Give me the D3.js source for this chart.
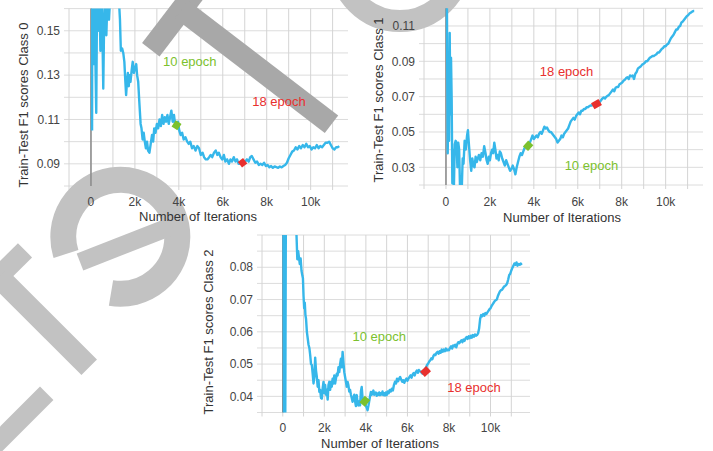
<!DOCTYPE html>
<html>
<head>
<meta charset="utf-8">
<script src="https://cdn.jsdelivr.net/npm/d3@7"></script>
<style>
  body { margin: 0; background: #fff; }
  svg { display: block; font-family: "Liberation Sans", Arial, sans-serif; }
</style>
</head>
<body>
<svg id="chart" width="713" height="451"></svg>
<script>
// ---- data ----
const iterTicks = [0, 2000, 4000, 6000, 8000, 10000];
const iterTickLabels = ["0", "2k", "4k", "6k", "8k", "10k"];
const iterGrid = [-1000, 0, 1000, 2000, 3000, 4000, 5000, 6000, 7000, 8000, 9000, 10000, 11000];

const class0Ticks = [0.09, 0.11, 0.13, 0.15];
const class0Grid = [0.08, 0.09, 0.10, 0.11, 0.12, 0.13, 0.14, 0.15, 0.16];
const class1Ticks = [0.03, 0.05, 0.07, 0.09, 0.11];
const class1Grid = [0.02, 0.03, 0.04, 0.05, 0.06, 0.07, 0.08, 0.09, 0.10, 0.11, 0.12];
const class2Ticks = [0.04, 0.05, 0.06, 0.07, 0.08];
const class2Grid = [0.035, 0.04, 0.045, 0.05, 0.055, 0.06, 0.065, 0.07, 0.075, 0.08, 0.085, 0.09];

// [iteration, F1 score]
const class0 = [[50,0.105],[60,0.17],[120,0.135],[150,0.17],[200,0.138],[240,0.113],[280,0.17],[330,0.15],[380,0.17],
  [430,0.141],[470,0.17],[520,0.15],[560,0.124],[600,0.155],[650,0.17],[700,0.148],[760,0.168],[820,0.155],[900,0.17],
  [1000,0.163],[1080,0.17],[1150,0.162],[1250,0.168],[1320,0.155],[1360,0.141],[1420,0.142],[1470,0.140],[1520,0.136],
  [1560,0.128],[1600,0.121],[1640,0.127],[1680,0.131],[1720,0.125],[1760,0.13],[1800,0.127],[1850,0.132],[1900,0.136],
  [1950,0.131],[2000,0.133],[2060,0.135],[2100,0.13],[2150,0.127],[2200,0.118],[2260,0.108],[2300,0.106],[2350,0.101],
  [2400,0.104],[2450,0.1],[2500,0.097],[2550,0.1],[2600,0.096],[2660,0.095],[2720,0.099],[2780,0.103],[2830,0.1],
  [2880,0.106],[2940,0.104],[3000,0.108],[3060,0.106],[3120,0.11],[3180,0.107],[3240,0.112],[3300,0.108],[3360,0.111],
  [3420,0.109],[3480,0.112],[3540,0.108],[3600,0.111],[3660,0.114],[3720,0.109],[3780,0.112],[3840,0.107],[3900,0.108],
  [3960,0.109],[4020,0.105],[4080,0.103],[4150,0.104],[4220,0.101],[4300,0.102],[4380,0.1],[4450,0.099],[4520,0.1],
  [4600,0.097],[4680,0.098],[4760,0.096],[4840,0.098],[4920,0.097],[5000,0.094],[5080,0.095],[5150,0.093],[5230,0.092],
  [5300,0.092],[5380,0.093],[5450,0.094],[5520,0.093],[5600,0.095],[5680,0.096],[5750,0.094],[5820,0.095],[5900,0.093],
  [5980,0.092],[6050,0.094],[6120,0.091],[6200,0.092],[6280,0.090],[6350,0.092],[6420,0.091],[6500,0.093],[6580,0.091],
  [6650,0.092],[6720,0.090],[6800,0.090],[6880,0.091],[6950,0.0905],[7020,0.091],[7100,0.092],[7180,0.091],[7250,0.093],
  [7320,0.0935],[7400,0.092],[7480,0.0905],[7560,0.091],[7640,0.0895],[7720,0.090],[7800,0.0895],[7880,0.0905],
  [7960,0.089],[8040,0.0895],[8120,0.0885],[8200,0.089],[8280,0.0882],[8360,0.0888],[8440,0.0885],[8520,0.0882],
  [8600,0.0888],[8680,0.0884],[8760,0.089],[8840,0.0895],[8920,0.0905],[9000,0.0925],[9080,0.094],[9160,0.0955],
  [9240,0.096],[9320,0.0975],[9400,0.0965],[9480,0.098],[9560,0.097],[9640,0.0985],[9720,0.0975],[9800,0.099],
  [9880,0.0975],[9960,0.098],[10040,0.0965],[10120,0.0975],[10200,0.097],[10280,0.0985],[10360,0.097],[10440,0.098],
  [10520,0.0975],[10600,0.0985],[10680,0.0995],[10760,0.0995],[10840,0.1],[10920,0.0985],[11000,0.097],[11080,0.0965],
  [11160,0.0975],[11240,0.0975],[11300,0.098]];

const class1 = [[40,0.13],[80,0.038],[110,0.09],[140,0.045],[170,0.106],[200,0.06],[230,0.092],[260,0.068],[290,0.021],
  [320,0.04],[360,0.018],[400,0.043],[440,0.045],[480,0.044],[520,0.03],[560,0.044],[600,0.04],[640,0.018],[680,0.025],
  [720,0.018],[760,0.035],[800,0.032],[850,0.045],[900,0.04],[960,0.048],[1000,0.051],[1050,0.042],[1100,0.034],
  [1150,0.028],[1200,0.035],[1250,0.031],[1300,0.03],[1350,0.036],[1400,0.033],[1450,0.035],[1500,0.037],[1560,0.034],
  [1620,0.038],[1680,0.036],[1740,0.042],[1800,0.038],[1850,0.034],[1900,0.032],[1950,0.036],[2000,0.034],[2050,0.038],
  [2100,0.04],[2150,0.038],[2200,0.044],[2250,0.04],[2300,0.035],[2350,0.037],[2400,0.034],[2450,0.039],[2500,0.038],
  [2560,0.035],[2620,0.033],[2680,0.031],[2740,0.034],[2800,0.032],[2860,0.03],[2920,0.028],[2980,0.029],[3040,0.031],
  [3100,0.029],[3160,0.026],[3220,0.03],[3280,0.033],[3340,0.036],[3400,0.038],[3460,0.037],[3520,0.039],[3580,0.041],
  [3640,0.042],[3700,0.0425],[3760,0.043],[3820,0.044],[3880,0.046],[3940,0.048],[4000,0.046],[4060,0.047],[4120,0.048],
  [4180,0.047],[4240,0.049],[4300,0.05],[4360,0.049],[4420,0.051],[4480,0.053],[4540,0.052],[4600,0.0525],[4660,0.051],
  [4720,0.05],[4780,0.05],[4840,0.049],[4900,0.048],[4960,0.047],[5020,0.046],[5080,0.044],[5140,0.045],[5200,0.046],
  [5260,0.048],[5320,0.047],[5380,0.049],[5440,0.05],[5500,0.051],[5560,0.052],[5620,0.054],[5680,0.056],[5740,0.057],
  [5800,0.058],[5860,0.057],[5920,0.059],[5980,0.06],[6040,0.061],[6100,0.06],[6160,0.062],[6220,0.062],[6280,0.063],
  [6340,0.063],[6400,0.064],[6460,0.064],[6520,0.0645],[6580,0.065],[6640,0.065],[6700,0.0655],[6760,0.0655],
  [6820,0.066],[6880,0.0665],[6940,0.067],[7000,0.067],[7060,0.068],[7120,0.069],[7180,0.0695],[7240,0.069],[7300,0.07],
  [7360,0.0705],[7420,0.071],[7480,0.072],[7540,0.073],[7600,0.074],[7660,0.073],[7720,0.075],[7780,0.0755],
  [7840,0.0755],[7900,0.077],[7960,0.0775],[8020,0.078],[8080,0.079],[8140,0.0795],[8200,0.0805],[8260,0.081],
  [8320,0.08],[8380,0.082],[8440,0.0815],[8500,0.082],[8560,0.08],[8620,0.083],[8680,0.084],[8740,0.086],[8800,0.0865],
  [8860,0.087],[8920,0.088],[8980,0.0885],[9040,0.089],[9100,0.09],[9160,0.09],[9220,0.091],[9280,0.092],[9340,0.0925],
  [9400,0.093],[9460,0.093],[9520,0.0935],[9580,0.094],[9640,0.095],[9700,0.095],[9760,0.096],[9820,0.097],
  [9880,0.0975],[9940,0.0985],[10000,0.0985],[10060,0.0995],[10120,0.1],[10180,0.1015],[10240,0.103],[10300,0.104],
  [10360,0.105],[10420,0.1065],[10480,0.108],[10540,0.108],[10600,0.1095],[10660,0.11],[10720,0.112],[10780,0.1125],
  [10840,0.1135],[10900,0.1145],[10960,0.1155],[11020,0.116],[11080,0.117],[11140,0.1175],[11200,0.118],[11260,0.1185],
  [11300,0.1185]];

const class2 = [[30,0.1],[60,0.03],[90,0.1],[120,0.03],[150,0.1],[300,0.11],[500,0.1],[650,0.092],[700,0.0825],
  [740,0.085],[780,0.083],[820,0.081],[860,0.0827],[900,0.079],[940,0.0775],[970,0.0766],[1000,0.071],[1030,0.0673],
  [1060,0.069],[1090,0.0652],[1120,0.064],[1160,0.06],[1200,0.058],[1240,0.056],[1280,0.055],[1320,0.0528],[1360,0.05],
  [1400,0.0497],[1440,0.047],[1480,0.044],[1520,0.046],[1560,0.052],[1600,0.048],[1640,0.046],[1680,0.043],[1720,0.045],
  [1760,0.0414],[1800,0.042],[1840,0.0395],[1880,0.0393],[1920,0.0425],[1960,0.0445],[2000,0.041],[2040,0.0435],
  [2080,0.0405],[2120,0.042],[2160,0.039],[2200,0.0435],[2240,0.0445],[2280,0.042],[2320,0.0445],[2360,0.043],
  [2400,0.0455],[2440,0.044],[2480,0.0465],[2520,0.044],[2560,0.0455],[2600,0.047],[2640,0.0465],[2680,0.049],
  [2720,0.0475],[2760,0.05],[2800,0.0517],[2840,0.049],[2880,0.0538],[2920,0.0505],[2960,0.0475],[3000,0.046],
  [3040,0.0445],[3080,0.043],[3120,0.0445],[3160,0.0434],[3200,0.0415],[3240,0.042],[3280,0.0405],[3320,0.0395],
  [3360,0.0383],[3400,0.0395],[3440,0.0405],[3480,0.0385],[3520,0.037],[3560,0.0404],[3600,0.038],[3640,0.0372],
  [3680,0.0385],[3720,0.0372],[3760,0.0415],[3800,0.0429],[3840,0.0395],[3880,0.0382],[3920,0.0385],[3960,0.039],
  [4000,0.037],[4040,0.0365],[4080,0.0357],[4120,0.037],[4160,0.0385],[4200,0.040],[4240,0.0414],[4280,0.0405],
  [4320,0.041],[4360,0.0418],[4400,0.0405],[4440,0.041],[4480,0.0412],[4520,0.0402],[4560,0.0409],[4600,0.0405],
  [4640,0.0412],[4680,0.0404],[4720,0.041],[4760,0.0406],[4800,0.0415],[4840,0.0404],[4880,0.041],[4920,0.0403],
  [4960,0.0412],[5000,0.0404],[5050,0.0415],[5100,0.041],[5150,0.042],[5200,0.0415],[5250,0.0424],[5300,0.0418],
  [5350,0.0435],[5400,0.0445],[5450,0.044],[5500,0.0455],[5550,0.0447],[5600,0.0455],[5650,0.046],[5700,0.0452],
  [5750,0.0445],[5800,0.045],[5850,0.0442],[5900,0.045],[5950,0.0455],[6000,0.0448],[6050,0.0455],[6100,0.046],
  [6150,0.0465],[6200,0.0458],[6250,0.0468],[6300,0.0472],[6350,0.0465],[6400,0.0475],[6450,0.048],[6500,0.0473],
  [6550,0.0482],[6600,0.0478],[6650,0.0476],[6700,0.0472],[6750,0.047],[6800,0.0478],[6850,0.0485],[6900,0.049],
  [6950,0.0498],[7000,0.0502],[7050,0.0508],[7100,0.0512],[7150,0.0518],[7200,0.0515],[7250,0.0525],[7300,0.053],
  [7350,0.0528],[7400,0.0535],[7450,0.0538],[7500,0.0532],[7550,0.054],[7600,0.0535],[7650,0.0545],[7700,0.0538],
  [7750,0.0545],[7800,0.054],[7850,0.0548],[7900,0.0542],[7950,0.0545],[8000,0.0543],[8050,0.055],[8100,0.0555],
  [8150,0.0548],[8200,0.0558],[8250,0.0555],[8300,0.056],[8350,0.0552],[8400,0.0562],[8450,0.0568],[8500,0.0565],
  [8550,0.057],[8600,0.0574],[8650,0.0568],[8700,0.0576],[8750,0.0572],[8800,0.058],[8850,0.0584],[8900,0.0578],
  [8950,0.0586],[9000,0.058],[9050,0.0588],[9100,0.0582],[9150,0.059],[9200,0.0585],[9250,0.0592],[9300,0.0588],
  [9350,0.059],[9400,0.0595],[9450,0.061],[9500,0.064],[9550,0.0652],[9600,0.0648],[9650,0.0655],[9700,0.065],
  [9750,0.0658],[9800,0.0655],[9850,0.066],[9900,0.0665],[9950,0.067],[10000,0.0673],[10050,0.068],[10100,0.0685],
  [10150,0.069],[10200,0.0695],[10250,0.0698],[10300,0.07],[10350,0.071],[10400,0.0718],[10450,0.0725],[10500,0.0729],
  [10550,0.073],[10600,0.0735],[10650,0.074],[10700,0.0742],[10750,0.0745],[10800,0.075],[10850,0.0762],[10900,0.0776],
  [10950,0.078],[11000,0.079],[11050,0.0798],[11100,0.0805],[11150,0.0812],[11200,0.0808],[11250,0.0815],[11300,0.0805],
  [11350,0.081],[11400,0.0808],[11450,0.0812],[11500,0.0807]];

// epoch markers (short thick segments on the curve) and their labels
const class0Ep10 = [[3800, 0.1060], [3990, 0.1088]];
const class0Ep18 = [[6780, 0.0896], [7020, 0.0914]];
const class1Ep10 = [[3620, 0.0405], [3860, 0.0438]];
const class1Ep18 = [[6680, 0.0646], [7020, 0.0670]];
const class2Ep10 = [[3820, 0.0375], [4080, 0.0395]];
const class2Ep18 = [[6720, 0.0468], [7020, 0.0486]];
const class0Labels = [[4500, 0.136], [8560, 0.1183]];
const class1Labels = [[6620, 0.0309], [5490, 0.0841]];
const class2Labels = [[4640, 0.0585], [9200, 0.0427]];

// ---- layout ----
var svg = d3.select("#chart");

var panels = [
  { data: class0, ep10: class0Ep10, ep18: class0Ep18, labels: class0Labels, yTicks: class0Ticks, yGrid: class0Grid,
    title: "Train-Test F1 scores Class 0", left: 69, right: 348, top: 8.6, bottom: 186,
    xDom: [-1000, 11700], yDom: [0.08, 0.16], yTitleX: 23, yTitleY: 105, xTitleX: 198, xTitleY: 221, tickY: 206 },
  { data: class1, ep10: class1Ep10, ep18: class1Ep18, labels: class1Labels, yTicks: class1Ticks, yGrid: class1Grid,
    title: "Train-Test F1 scores Class 1", left: 424, right: 703, top: 8.3, bottom: 185,
    xDom: [-1000, 11700], yDom: [0.02, 0.12], yTitleX: 378, yTitleY: 100, xTitleX: 562, xTitleY: 222, tickY: 206 },
  { data: class2, ep10: class2Ep10, ep18: class2Ep18, labels: class2Labels, yTicks: class2Ticks, yGrid: class2Grid,
    title: "Train-Test F1 scores Class 2", left: 262, right: 530, top: 235, bottom: 412.5,
    xDom: [-1000, 11900], yDom: [0.035, 0.09], yTitleX: 208, yTitleY: 332, xTitleX: 380, xTitleY: 448, tickY: 432 }
];

var gridLayer = svg.append("g");
var markLayer = svg.append("g"); // watermark sits between grid and data
var dataLayer = svg.append("g");

panels.forEach(function (p, i) {
  var x = d3.scaleLinear().domain(p.xDom).range([p.left, p.right]);
  var y = d3.scaleLinear().domain(p.yDom).range([p.bottom, p.top]);

  // grid + tick stubs
  gridLayer.append("g").selectAll("line").data(p.yGrid).enter().append("line")
    .attr("x1", p.left - 5).attr("x2", p.right)
    .attr("y1", d => y(d)).attr("y2", d => y(d))
    .attr("stroke", "#dcdcdc").attr("stroke-width", 1);
  gridLayer.append("g").selectAll("line").data(iterGrid).enter().append("line")
    .attr("x1", d => x(d)).attr("x2", d => x(d))
    .attr("y1", p.top).attr("y2", p.bottom + 4)
    .attr("stroke", "#d4d4d4").attr("stroke-width", 1);

  var g = dataLayer.append("g");

  // zero line
  g.append("line")
    .attr("x1", x(0)).attr("x2", x(0)).attr("y1", p.top).attr("y2", p.bottom)
    .attr("stroke", "#8a8a8a").attr("stroke-width", 1.5);

  g.append("clipPath").attr("id", "clip" + i).append("rect")
    .attr("x", p.left).attr("y", p.top).attr("width", p.right - p.left).attr("height", p.bottom - p.top);

  var line = d3.line().x(d => x(d[0])).y(d => y(d[1]));
  var plot = g.append("g").attr("clip-path", "url(#clip" + i + ")");
  plot.append("path").datum(p.data).attr("d", line)
    .attr("fill", "none").attr("stroke", "#36b7ea").attr("stroke-width", 2.4).attr("stroke-linejoin", "round");
  plot.append("path").datum(p.ep10).attr("d", line)
    .attr("fill", "none").attr("stroke", "#7cc12e").attr("stroke-width", 7);
  plot.append("path").datum(p.ep18).attr("d", line)
    .attr("fill", "none").attr("stroke", "#e8302e").attr("stroke-width", 7);

  // axes text
  g.append("g").selectAll("text").data(p.yTicks).enter().append("text")
    .attr("x", p.left - 9).attr("y", d => y(d)).attr("dy", "0.35em")
    .attr("text-anchor", "end").attr("font-size", 12).attr("fill", "#444")
    .text(d => d3.format(".2f")(d));
  g.append("g").selectAll("text").data(iterTicks).enter().append("text")
    .attr("x", d => x(d)).attr("y", p.tickY)
    .attr("text-anchor", "middle").attr("font-size", 12).attr("fill", "#444")
    .text((d, j) => iterTickLabels[j]);
  g.append("text").attr("x", p.xTitleX).attr("y", p.xTitleY)
    .attr("text-anchor", "middle").attr("font-size", 13).attr("fill", "#333")
    .text("Number of Iterations");
  g.append("text")
    .attr("transform", "translate(" + p.yTitleX + "," + p.yTitleY + ") rotate(-90)")
    .attr("dy", "0.35em").attr("text-anchor", "middle").attr("font-size", 13).attr("fill", "#333")
    .text(p.title);

  // epoch labels
  g.append("text").attr("x", x(p.labels[0][0])).attr("y", y(p.labels[0][1])).attr("dy", "0.35em")
    .attr("text-anchor", "middle").attr("font-size", 13).attr("fill", "#7cc12e").text("10 epoch");
  g.append("text").attr("x", x(p.labels[1][0])).attr("y", y(p.labels[1][1])).attr("dy", "0.35em")
    .attr("text-anchor", "middle").attr("font-size", 13).attr("fill", "#e8302e").text("18 epoch");
});

// ---- grey watermark strokes across the page ----
var wm = markLayer.attr("fill", "none").attr("stroke-linecap", "butt");
wm.append("path").attr("d", "M150.8,49.7L212.4,-30.9").attr("stroke", "#a8a8a8").attr("stroke-width", 22);
wm.append("path").attr("d", "M181.6,9.4L331.5,124.2").attr("stroke", "#a8a8a8").attr("stroke-width", 22);
wm.append("path").attr("d", "M25,250.3L-28,303").attr("stroke", "#c2c2c2").attr("stroke-width", 20);
wm.append("path").attr("d", "M-1.4,276.7L89.2,367.2").attr("stroke", "#c2c2c2").attr("stroke-width", 22);
wm.append("path").attr("d", "M46.7,393.3L-20,460").attr("stroke", "#c2c2c2").attr("stroke-width", 19);
// "e": open ring plus bar
wm.append("path").attr("d", "M66,254A57,57 0 1 1 111,293").attr("stroke", "#c2c2c2").attr("stroke-width", 26);
wm.append("path").attr("d", "M80,262L172,226").attr("stroke", "#c2c2c2").attr("stroke-width", 18);
wm.append("circle").attr("cx", 400).attr("cy", -40).attr("r", 61).attr("stroke", "#c2c2c2").attr("stroke-width", 22);
</script>
</body>
</html>
